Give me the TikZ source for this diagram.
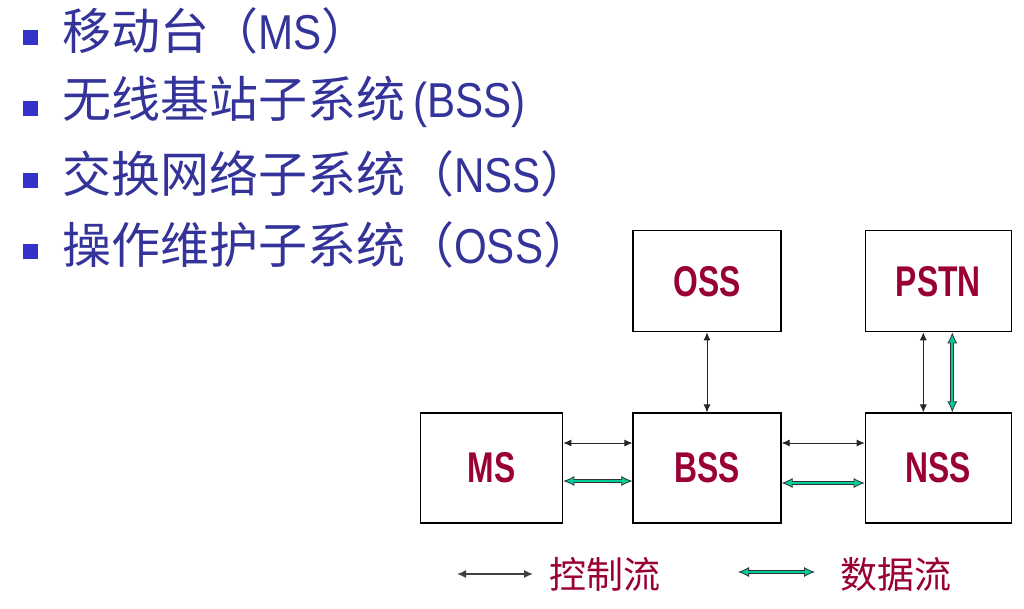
\documentclass[tikz,border=0pt]{standalone}
\usepackage{fontspec}
\usepackage{tikz}
\usetikzlibrary{positioning,arrows.meta}
\newfontfamily\cjk{Noto Sans CJK SC}
\newfontfamily\latn[FakeStretch=0.86]{Liberation Sans}
\newfontfamily\boxfont[FakeStretch=0.74]{Liberation Sans}
\definecolor{itemblue}{RGB}{51,51,153}
\definecolor{bulletblue}{RGB}{51,51,204}
\definecolor{labelred}{RGB}{153,0,51}
\definecolor{flowgreen}{RGB}{0,204,153}

\begin{document}
\begin{tikzpicture}[x=1pt,y=1pt]
\tikzset{unit/.style={draw,line width=1.3pt,minimum width=148pt,minimum height=110pt,inner sep=0pt,text=labelred,
  font=\boxfont\bfseries\fontsize{43}{44}\selectfont}}
\tikzset{ctrl/.style={draw=black!85,line width=0.8pt,{Latex[length=8pt,width=7pt]}-{Latex[length=8pt,width=7pt]}}}
\tikzset{datafl/.style={draw=black!80,line width=4pt,
  {Latex[length=11pt,width=10pt,line width=0.8pt,fill=flowgreen]}-{Latex[length=11pt,width=10pt,line width=0.8pt,fill=flowgreen]},
  postaction={draw=flowgreen,line width=2pt,-,shorten <=9pt,shorten >=9pt}}}
\tikzset{item/.style={anchor=west,inner sep=0pt,text=itemblue,font=\cjk\fontsize{49}{50}\selectfont}}
\tikzset{bullet/.style={fill=bulletblue,minimum size=15pt,inner sep=0pt}}
\tikzset{legend/.style={text=labelred,inner sep=0pt,font=\cjk\fontsize{37}{40}\selectfont}}
	\useasboundingbox (0,0) rectangle (1024,-608);
	\node[item] (it1) at (62,-31) {移动台（{\latn MS}）};
	\node[item] (it2) at (62,-102) {无线基站子系统{\latn\,(BSS)}};
	\node[item] (it3) at (62,-174) {交换网络子系统（{\latn NSS}）};
	\node[item] (it4) at (62,-245) {操作维护子系统（{\latn OSS}）};
	\node[bullet,left=24pt of it1,yshift=-6pt] (b1) {};
	\node[bullet,left=24pt of it2,yshift=-6pt] (b2) {};
	\node[bullet,left=24pt of it3,yshift=-6pt] (b3) {};
	\node[bullet,left=24pt of it4,yshift=-6pt] (b4) {};
	\node[unit] (bss) at (707,-468) {BSS};
	\node[unit,minimum width=142pt,left=69pt of bss] (ms) {MS};
	\node[unit,minimum width=146pt,right=83pt of bss] (nss) {NSS};
	\node[unit,minimum height=101pt,above=80pt of bss] (oss) {OSS};
	\node[unit,minimum width=146pt,minimum height=101pt,above=80pt of nss] (pstn) {PSTN};
		\path[ctrl] (oss) -- (bss);
		\path[ctrl] ([xshift=-15pt]pstn.south) -- ([xshift=-15pt]nss.north);
		\path[datafl] ([xshift=14pt]pstn.south) -- ([xshift=14pt]nss.north);
		\path[ctrl] ([yshift=25pt]ms.east) -- ([yshift=25pt]bss.west);
		\path[datafl] ([yshift=-13pt]ms.east) -- ([yshift=-13pt]bss.west);
		\path[ctrl] ([yshift=25pt]bss.east) -- ([yshift=25pt]nss.west);
		\path[datafl] ([yshift=-15pt]bss.east) -- ([yshift=-15pt]nss.west);
	\node[legend] (ctrltxt) at (605,-574) {控制流};
	\node[legend] (datatxt) at (896,-574) {数据流};
	\coordinate (c1) at (457,-574);
	\coordinate (c2) at (533,-574);
	\coordinate (d1) at (738,-572);
	\coordinate (d2) at (815,-572);
		\path[ctrl,line width=1.5pt,draw=black!75,{Latex[length=9pt,width=8pt]}-{Latex[length=9pt,width=8pt]}] (c1) -- (c2);
		\path[datafl] (d1) -- (d2);
\end{tikzpicture}
\end{document}
